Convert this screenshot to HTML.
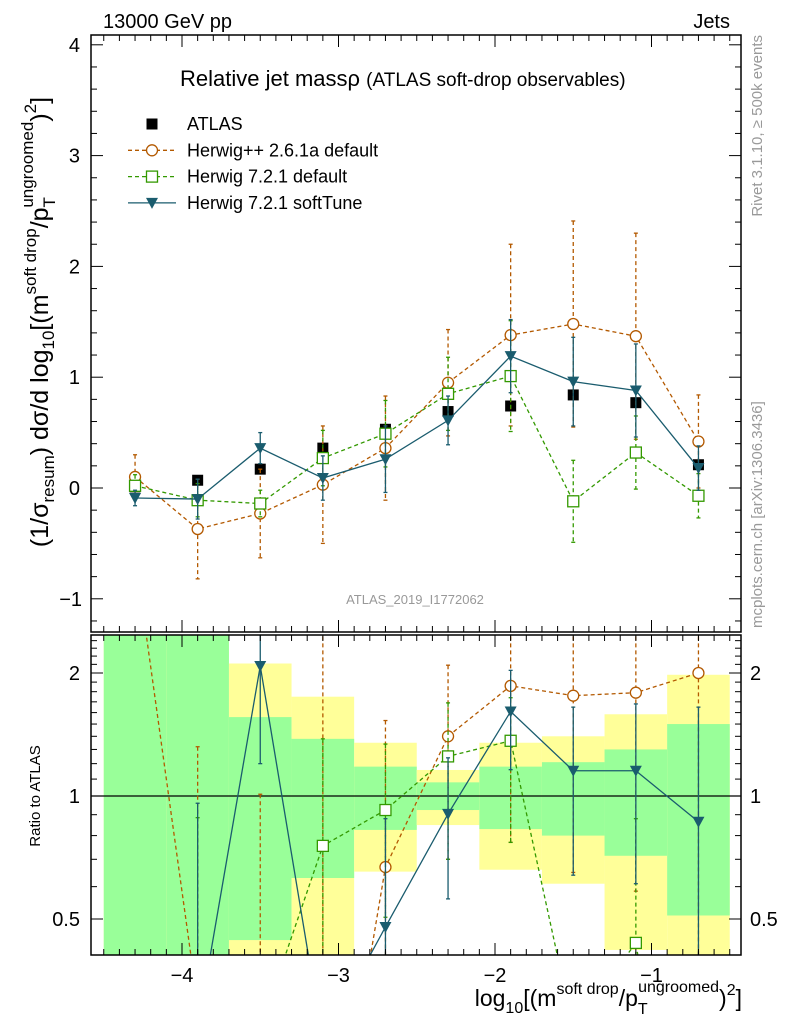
<!DOCTYPE html>
<html><head><meta charset="utf-8">
<style>
html,body{margin:0;padding:0;background:#fff;width:786px;height:1024px;overflow:hidden;}
svg{display:block;font-family:"Liberation Sans",sans-serif;}
</style></head>
<body>
<svg id="chart" width="786" height="1024" viewBox="0 0 786 1024" xmlns="http://www.w3.org/2000/svg">
<defs>
<clipPath id="clipTop"><rect x="91" y="35" width="650" height="597"/></clipPath>
<clipPath id="clipBot"><rect x="91" y="635" width="650" height="320"/></clipPath>
</defs>
<g id="bands" clip-path="url(#clipBot)"></g>
<g id="topMarks" clip-path="url(#clipTop)"></g>
<g id="botMarks" clip-path="url(#clipBot)"></g>
<g id="axes"></g>

<text x="103" y="28" font-size="20">13000 GeV pp</text>
<text x="730" y="28" font-size="20" text-anchor="end">Jets</text>
<text x="180" y="86" font-size="22">Relative jet massρ <tspan font-size="19">(ATLAS soft-drop observables)</tspan></text>
<text x="415" y="604" font-size="13" fill="#999" text-anchor="middle">ATLAS_2019_I1772062</text>
<text transform="translate(762,35) rotate(-90)" font-size="15" fill="#999" text-anchor="end">Rivet 3.1.10, ≥ 500k events</text>
<text transform="translate(762,628) rotate(-90)" font-size="15" fill="#999">mcplots.cern.ch [arXiv:1306.3436]</text>

<text transform="translate(48,322) rotate(-90)" font-size="25" text-anchor="middle">(1/σ<tspan font-size="17" dy="6">resum</tspan><tspan dy="-6">) dσ/d log</tspan><tspan font-size="17" dy="6">10</tspan><tspan dy="-6">[(m</tspan><tspan font-size="17" dy="-12">soft drop</tspan><tspan dy="12">/p</tspan><tspan font-size="17" dy="7">T</tspan><tspan font-size="17" dx="-10" dy="-22">ungroomed</tspan><tspan dy="15">)</tspan><tspan font-size="17" dy="-12">2</tspan><tspan dy="12">]</tspan></text>
<text transform="translate(40,796) rotate(-90)" font-size="15" text-anchor="middle">Ratio to ATLAS</text>
<text x="742" y="1006" font-size="23" text-anchor="end">log<tspan font-size="16" dy="7">10</tspan><tspan dy="-7">[(m</tspan><tspan font-size="16" dy="-12">soft drop</tspan><tspan dy="12">/p</tspan><tspan font-size="16" dy="8">T</tspan><tspan font-size="16" dx="-9" dy="-22">ungroomed</tspan><tspan dy="14">)</tspan><tspan font-size="16" dy="-11">2</tspan><tspan dy="11">]</tspan></text>

<g id="legend"></g>
</svg>
<script>
const xCenters = [-4.3,-3.9,-3.5,-3.1,-2.7,-2.3,-1.9,-1.5,-1.1,-0.7];
const binHalf = 0.2;
const atlasVals = [0.01,0.07,0.17,0.36,0.53,0.69,0.74,0.84,0.77,0.21];
const atlasErr = [0.03,0.03,0.03,0.03,0.03,0.03,0.03,0.03,0.03,0.03];
const hppVals = [0.10,-0.37,-0.23,0.03,0.36,0.95,1.38,1.48,1.37,0.42];
const hppErr = [0.2,0.45,0.4,0.53,0.47,0.48,0.82,0.93,0.93,0.42];
const h7Vals = [0.02,-0.11,-0.14,0.27,0.49,0.85,1.01,-0.12,0.32,-0.07];
const h7Err = [0.1,0.15,0.12,0.25,0.3,0.33,0.5,0.37,0.33,0.2];
const softVals = [-0.09,-0.10,0.36,0.09,0.26,0.61,1.19,0.96,0.88,0.18];
const softErr = [0.07,0.18,0.14,0.2,0.3,0.22,0.33,0.4,0.42,0.2];
const hppRatio = [3.9,0.31,0.05,0.083,0.67,1.40,1.86,1.76,1.79,2.0];
const hppRatioLo = [null,0.01,0.01,0.01,0.01,0.70,0.77,0.65,0.585,0.01];
const hppRatioHi = [null,1.32,1.01,5,1.53,2.09,5,5,5,5];
const h7Ratio = [null,0.05,0.27,0.755,0.924,1.25,1.365,0.27,0.437,0.05];
const h7RatioLo = [null,0.01,null,0.01,0.505,0.70,0.77,null,0.01,null];
const h7RatioHi = [null,0.885,null,1.38,1.34,1.69,1.74,null,0.88,null];
const softRatio = [0.05,0.27,2.08,0.25,0.478,0.904,1.61,1.153,1.153,0.865];
const softRatioLo = [null,0.01,1.2,null,0.01,0.56,1.16,0.64,0.61,0.1];
const softRatioHi = [null,0.96,5,null,0.88,1.24,2.03,1.65,1.68,1.65];
const greenLo = [0.01,0.01,0.444,0.63,0.826,0.924,0.83,0.80,0.714,0.51];
const greenHi = [10,10,1.56,1.38,1.18,1.08,1.18,1.21,1.30,1.50];
const yellowLo = [0.01,0.01,0.01,0.01,0.653,0.849,0.66,0.61,0.42,0.01];
const yellowHi = [10,10,2.11,1.75,1.35,1.158,1.35,1.40,1.585,1.98];
const yTicks = [-1,0,1,2,3,4];
const xTicks = [-4,-3,-2,-1];
const rTicks = [0.5,1,2];

const NS="http://www.w3.org/2000/svg";
const X=v=>182+(v+4)*156.5;
const Y=v=>488-v*110.8;
const R=v=>796-Math.log10(v)*408.6;
const L=91,Rt=741,T=35,M=632,RT=635,B=955;
function mk(tag,attrs,parent){const e=document.createElementNS(NS,tag);for(const k in attrs)e.setAttribute(k,attrs[k]);parent.appendChild(e);return e;}
const gB=document.getElementById('bands'),gT=document.getElementById('topMarks'),gR=document.getElementById('botMarks'),gA=document.getElementById('axes'),gL=document.getElementById('legend');

xCenters.forEach((c,i)=>{
  let r=mk('rect',{x:X(c-binHalf),y:R(yellowHi[i]),width:X(c+binHalf)-X(c-binHalf),height:R(yellowLo[i])-R(yellowHi[i]),fill:'#ffff99'},gB);
  
  
  let g=mk('rect',{x:X(c-binHalf),y:R(greenHi[i]),width:X(c+binHalf)-X(c-binHalf),height:R(greenLo[i])-R(greenHi[i]),fill:'#99ff99'},gB);
  
  
});
let one=mk('line',{x1:L,x2:Rt,y1:R(1),y2:R(1),stroke:'#000','stroke-width':1.3},gB);



function marker(kind,x,y,color,parent,name){
  let e;
  if(kind==='circle') e=mk('circle',{cx:x,cy:y,r:5.5,fill:'#fff',stroke:color,'stroke-width':1.3},parent);
  else if(kind==='square') e=mk('rect',{x:x-5.5,y:y-5.5,width:11,height:11,fill:'#fff',stroke:color,'stroke-width':1.3},parent);
  else if(kind==='tri') e=mk('polygon',{points:`${x-6},${y-5} ${x+6},${y-5} ${x},${y+6}`,fill:color},parent);
  else e=mk('rect',{x:x-5.5,y:y-5.5,width:11,height:11,fill:'#000'},parent);
  
  
}
function series(vals,err,color,dash,kind,name,parent,ymap,lo,hi){
  const pts=[];
  vals.forEach((v,i)=>{if(v!==null)pts.push(X(xCenters[i])+','+ymap(v));});
  let p=mk('polyline',{points:pts.join(' '),fill:'none',stroke:color,'stroke-width':1.3,'stroke-dasharray':dash},parent);
  
  
  vals.forEach((v,i)=>{
    const x=X(xCenters[i]);
    let a,b;
    if(lo){ if(lo[i]===null)return; a=ymap(hi[i]); b=ymap(lo[i]); }
    else { a=ymap(v+err[i]); b=ymap(v-err[i]); }
    let e=mk('line',{x1:x,x2:x,y1:a,y2:b,stroke:color,'stroke-width':1.3,'stroke-dasharray':dash},parent);
    
    
    [a,b].forEach(yy=>{mk('line',{x1:x-2,x2:x+2,y1:yy,y2:yy,stroke:color,'stroke-width':1.3},parent);});
  });
  vals.forEach((v,i)=>{if(v!==null)marker(kind,X(xCenters[i]),ymap(v),color,parent,name+'-marker');});
}
atlasVals.forEach((v,i)=>marker('atlas',X(xCenters[i]),Y(v),'#000',gT,'atlas-marker'));
series(hppVals,hppErr,'#b35900','4,3','circle','herwigpp',gT,Y);
series(h7Vals,h7Err,'#339900','4,3','square','herwig7-default',gT,Y);
series(softVals,softErr,'#1a5c6e','','tri','herwig7-softtune',gT,Y);
series(hppRatio,null,'#b35900','4,3','circle','herwigpp-ratio',gR,R,hppRatioLo,hppRatioHi);
series(h7Ratio,null,'#339900','4,3','square','herwig7-default-ratio',gR,R,h7RatioLo,h7RatioHi);
series(softRatio,null,'#1a5c6e','','tri','herwig7-softtune-ratio',gR,R,softRatioLo,softRatioHi);

[[T,M],[RT,B]].forEach(([t,b])=>{
  let f=mk('rect',{x:L,y:t,width:Rt-L,height:b-t,fill:'none',stroke:'#000','stroke-width':1.5},gA);
  
  
});
for(let k=-46;k<=-4;k++){
  const v=k/10,x=X(v); if(x<L||x>Rt)continue;
  const major=(k%10===0), len=major?12:6;
  [[T,1],[M,-1],[RT,1],[B,-1]].forEach(([y0,d])=>mk('line',{x1:x,x2:x,y1:y0,y2:y0+d*len,stroke:'#000','stroke-width':1},gA));
}
xTicks.forEach(v=>{
  let t=mk('text',{x:X(v),y:982,'font-size':20,'text-anchor':'middle'},gA);t.textContent='\u2212'+Math.abs(v);
  
  
});
for(let k=-6;k<=20;k++){
  const v=k/5,y=Y(v); if(y<T||y>M)continue;
  const major=(k%5===0),len=major?12:6;
  mk('line',{x1:L,x2:L+len,y1:y,y2:y,stroke:'#000'},gA);
  mk('line',{x1:Rt,x2:Rt-len,y1:y,y2:y,stroke:'#000'},gA);
}
yTicks.forEach(v=>{
  let t=mk('text',{x:v<0?82:80,y:Y(v)+7,'font-size':20,'text-anchor':'end'},gA);t.textContent=(v<0?'\u2212':'')+Math.abs(v);
  
  
});
[0.4,0.5,0.6,0.7,0.8,0.9,1,2].forEach(v=>{
  const y=R(v); if(y<RT||y>B)return;
  const len=(v===1||v===2||v===0.5)?12:6;
  mk('line',{x1:L,x2:L+len,y1:y,y2:y,stroke:'#000'},gA);
  mk('line',{x1:Rt,x2:Rt-len,y1:y,y2:y,stroke:'#000'},gA);
});
for(let v=1.1;v<2.5;v+=0.1){const y=R(v);if(y<RT)break;mk('line',{x1:L,x2:L+6,y1:y,y2:y,stroke:'#000'},gA);mk('line',{x1:Rt,x2:Rt-6,y1:y,y2:y,stroke:'#000'},gA);}
rTicks.forEach(v=>{
  let t=mk('text',{x:80,y:R(v)+7,'font-size':20,'text-anchor':'end'},gA);t.textContent=String(v);
  
  
  let t2=mk('text',{x:750,y:R(v)+7,'font-size':20},gA);t2.textContent=String(v);
  
  
});
const legNames=['ATLAS','Herwig++ 2.6.1a default','Herwig 7.2.1 default','Herwig 7.2.1 softTune'];
const legKinds=['atlas','circle','square','tri'];
const legColors=['#000','#b35900','#339900','#1a5c6e'];
const legDash=['','4,3','4,3',''];
legNames.forEach((n,i)=>{
  const y=124+i*26.3;
  if(i>0){let l=mk('line',{x1:128,x2:176,y1:y,y2:y,stroke:legColors[i],'stroke-width':1.3,'stroke-dasharray':legDash[i]},gL);
    
    }
  marker(legKinds[i],152,y,legColors[i],gL,'legend-marker');
  let t=mk('text',{x:187,y:y+6,'font-size':18},gL);t.textContent=n;
  
  
});
</script>
</body></html>
